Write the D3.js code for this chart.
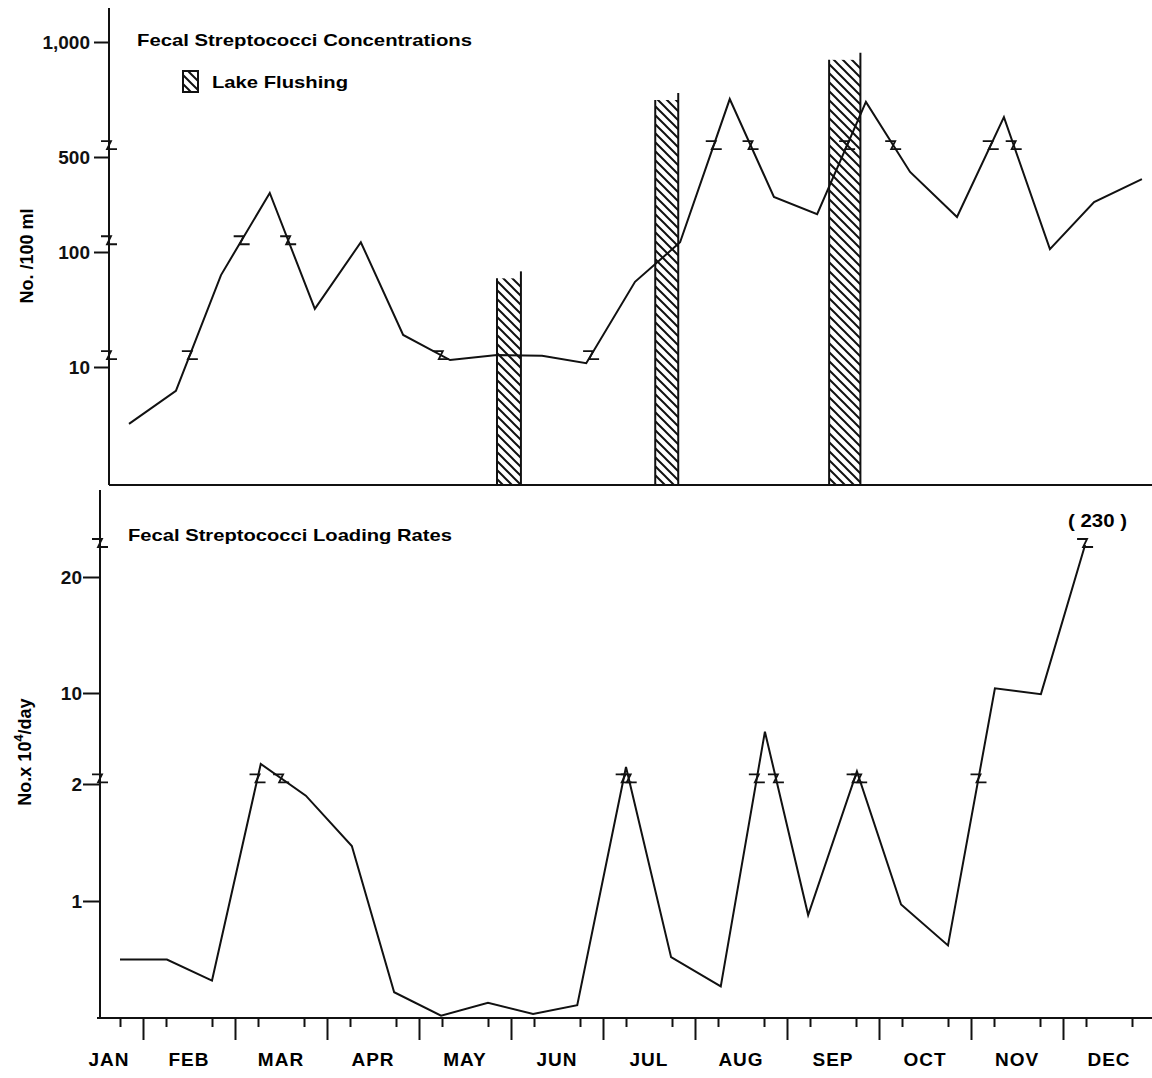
<!DOCTYPE html>
<html>
<head>
<meta charset="utf-8">
<script src="https://cdn.jsdelivr.net/npm/d3@7"></script>
<style>
  body { margin: 0; background: #fff; }
  svg { font-family: "Liberation Sans", Arial, sans-serif; font-weight: bold; }
  .axis path { display: none; }
  .axis line { stroke: #111; stroke-width: 2; }
  .axis text { font-size: 19px; font-weight: bold; fill: #111; }
</style>
</head>
<body>
<svg id="chart" width="1152" height="1078"></svg>
<script>
// sampling dates, in months from Jan 1
const sampleMonths = [0.75, 1.26, 1.75, 2.28, 2.77, 3.27, 3.73, 4.24, 4.75, 5.24, 5.72, 6.25,
                      6.74, 7.28, 7.76, 8.23, 8.76, 9.24, 9.75, 10.26, 10.76, 11.24, 11.76];
// No./100 ml
const concentration = [3.2, 6.2, 63, 272, 32, 118, 19, 11.5, 12.7, 12.5, 10.8, 55,
                       118, 709, 254, 190, 697, 388, 181, 636, 105, 233, 344];
// No. x 10^4/day
const loading = [0.5, 0.5, 0.32, 3.76, 1.9, 1.47, 0.22, 0.02, 0.13, 0.035, 0.11, 3.5,
                 0.52, 0.27, 6.6, 0.88, 3.1, 0.97, 0.62, 10.4, 9.9, 230];
// lake flushing periods
const flushStart = [4.75, 6.47, 8.36];
const flushEnd = [5.01, 6.72, 8.70];
const flushTop = [59, 705, 898];

const months = ["JAN", "FEB", "MAR", "APR", "MAY", "JUN", "JUL", "AUG", "SEP", "OCT", "NOV", "DEC"];
const concTicks = [10, 100, 500, 1000];
const loadTicks = [1, 2, 10, 20];
// scale breaks: [segment start index, value where the break sits]
const concBreaks = [[1, 12.7], [2, 122], [3, 122], [6, 12.7], [10, 12.7], [12, 537], [13, 537],
                    [15, 537], [16, 537], [18, 537], [19, 537]];
const loadBreaks = [[2, 2.5], [3, 2.5], [10, 2.5], [11, 2.5], [13, 2.5], [14, 2.5], [15, 2.5], [16, 2.5], [18, 2.5]];
const concAxisBreaks = [12.7, 122, 537];
const loadAxisBreaks = [2.5, 230];

const svg = d3.select("#chart");
const axisX = 100;

const x = d3.scaleLinear().domain([0, 12]).range([51, 1155]);
const yTop = d3.scaleLog().domain([1, 10, 100, 500, 1000]).range([482, 367, 252, 157, 42]);
const yBot = d3.scaleLinear().domain([0, 1, 2, 10, 20, 230]).range([1018, 901, 784, 693, 577, 545]);

// hatch pattern for flushing bars
const pat = svg.append("defs").append("pattern")
  .attr("id", "hatch")
  .attr("patternUnits", "userSpaceOnUse")
  .attr("width", 9).attr("height", 9);
pat.append("path")
  .attr("d", "M-1,-1 L10,10 M-5.5,3.5 L5.5,14.5 M3.5,-5.5 L14.5,5.5")
  .attr("stroke", "#111").attr("stroke-width", 2);

// little "Z" drawn where the scale is broken
function zig(g, px, py) {
  g.append("path")
    .attr("d", `M${px - 8},${py - 4} H${px + 2} L${px - 2},${py + 4} H${px + 8}`)
    .attr("fill", "none")
    .attr("stroke", "#111")
    .attr("stroke-width", 1.8);
}

function lineBreaks(g, vals, ys, list) {
  list.forEach(([i, v]) => {
    let yb = ys(v);
    let x0 = x(sampleMonths[i]), x1 = x(sampleMonths[i + 1]);
    let y0 = ys(vals[i]), y1 = ys(vals[i + 1]);
    let t = (yb - y0) / (y1 - y0);
    zig(g, x0 + t * (x1 - x0), yb);
  });
}

const line = (ys) => d3.line()
  .x((d, i) => x(sampleMonths[i]))
  .y(d => ys(d));

// ---------- top panel ----------
let topPanel = svg.append("g").attr("transform", "translate(9,0)");

topPanel.selectAll("rect.flush")
  .data(flushTop)
  .join("rect")
  .classed("flush", true)
  .attr("x", (d, i) => x(flushStart[i]))
  .attr("width", (d, i) => x(flushEnd[i]) - x(flushStart[i]))
  .attr("y", d => yTop(d))
  .attr("height", d => 485 - yTop(d))
  .attr("fill", "url(#hatch)");

topPanel.selectAll("line.fl")
  .data(flushTop)
  .join("line")
  .attr("class", "fl")
  .attr("x1", (d, i) => x(flushStart[i])).attr("x2", (d, i) => x(flushStart[i]))
  .attr("y1", d => yTop(d)).attr("y2", 485)
  .attr("stroke", "#111").attr("stroke-width", 2);

topPanel.selectAll("line.fr")
  .data(flushTop)
  .join("line")
  .attr("class", "fr")
  .attr("x1", (d, i) => x(flushEnd[i])).attr("x2", (d, i) => x(flushEnd[i]))
  .attr("y1", d => yTop(d) - 7).attr("y2", 485)
  .attr("stroke", "#111").attr("stroke-width", 2);

topPanel.append("path")
  .datum(concentration)
  .attr("d", line(yTop))
  .attr("fill", "none")
  .attr("stroke", "#111")
  .attr("stroke-width", 2);

lineBreaks(topPanel, concentration, yTop, concBreaks);

topPanel.append("line")
  .attr("x1", axisX).attr("x2", axisX)
  .attr("y1", 8).attr("y2", 485)
  .attr("stroke", "#111").attr("stroke-width", 2);
topPanel.append("line")
  .attr("x1", axisX).attr("x2", 1143)
  .attr("y1", 485).attr("y2", 485)
  .attr("stroke", "#111").attr("stroke-width", 2);

topPanel.append("g")
  .attr("class", "axis")
  .attr("transform", `translate(${axisX},0)`)
  .call(d3.axisLeft(yTop).tickValues(concTicks).tickFormat(d3.format(",")).tickSize(15).tickPadding(4));

concAxisBreaks.forEach(v => zig(topPanel, axisX, yTop(v)));

topPanel.append("text")
  .attr("x", 128).attr("y", 46)
  .attr("font-size", 17)
  .attr("textLength", 335).attr("lengthAdjust", "spacingAndGlyphs")
  .text("Fecal Streptococci Concentrations");

topPanel.append("rect")
  .attr("x", 174).attr("y", 71)
  .attr("width", 15).attr("height", 21)
  .attr("fill", "url(#hatch)")
  .attr("stroke", "#111").attr("stroke-width", 2);
topPanel.append("text")
  .attr("x", 203).attr("y", 88)
  .attr("font-size", 17)
  .attr("textLength", 136).attr("lengthAdjust", "spacingAndGlyphs")
  .text("Lake Flushing");

svg.append("text")
  .attr("transform", "translate(33,256) rotate(-90)")
  .attr("text-anchor", "middle")
  .attr("font-size", 18)
  .text("No. /100 ml");

// ---------- bottom panel ----------
let botPanel = svg.append("g");

botPanel.append("path")
  .datum(loading)
  .attr("d", line(yBot))
  .attr("fill", "none")
  .attr("stroke", "#111")
  .attr("stroke-width", 2);

lineBreaks(botPanel, loading, yBot, loadBreaks);
zig(botPanel, x(sampleMonths[loading.length - 1]), yBot(loading[loading.length - 1]) - 2);

botPanel.append("text")
  .attr("x", 1068).attr("y", 527)
  .attr("font-size", 18)
  .attr("textLength", 59).attr("lengthAdjust", "spacingAndGlyphs")
  .text("( " + loading[loading.length - 1] + " )");

botPanel.append("line")
  .attr("x1", axisX).attr("x2", axisX)
  .attr("y1", 490).attr("y2", 1018)
  .attr("stroke", "#111").attr("stroke-width", 2);
botPanel.append("line")
  .attr("x1", 97).attr("x2", 1152)
  .attr("y1", 1018).attr("y2", 1018)
  .attr("stroke", "#111").attr("stroke-width", 2);

botPanel.append("g")
  .attr("class", "axis")
  .attr("transform", `translate(${axisX},0)`)
  .call(d3.axisLeft(yBot).tickValues(loadTicks).tickSize(17).tickPadding(1));

loadAxisBreaks.forEach(v => zig(botPanel, axisX, yBot(v) - (v > 100 ? 2 : 0)));

botPanel.append("text")
  .attr("x", 128).attr("y", 541)
  .attr("font-size", 17)
  .attr("textLength", 324).attr("lengthAdjust", "spacingAndGlyphs")
  .text("Fecal Streptococci Loading Rates");

let yl = svg.append("text")
  .attr("transform", "translate(31,752) rotate(-90)")
  .attr("text-anchor", "middle")
  .attr("font-size", 18);
yl.append("tspan").text("No.x 10");
yl.append("tspan").attr("font-size", 13).attr("dy", -8).text("4");
yl.append("tspan").attr("dy", 8).text("/day");

// x axis: month boundaries and sampling marks
const longTicks = d3.range(1, 12);
const shortTicks = d3.range(0, 12).flatMap(m => [m + 0.25, m + 0.75]).filter(m => x(m) > axisX + 5);

botPanel.append("g")
  .attr("class", "axis")
  .attr("transform", "translate(0,1018)")
  .call(d3.axisBottom(x).tickValues(longTicks).tickSize(22).tickFormat(""));
botPanel.append("g")
  .attr("class", "axis")
  .attr("transform", "translate(0,1018)")
  .call(d3.axisBottom(x).tickValues(shortTicks).tickSize(9).tickFormat(""));

botPanel.selectAll("text.month")
  .data(months)
  .join("text")
  .classed("month", true)
  .attr("x", (d, i) => Math.max(x(i + 0.5), axisX + 9))
  .attr("y", 1066)
  .attr("text-anchor", "middle")
  .attr("font-size", 19)
  .attr("letter-spacing", 1)
  .text(d => d);
</script>
</body>
</html>
